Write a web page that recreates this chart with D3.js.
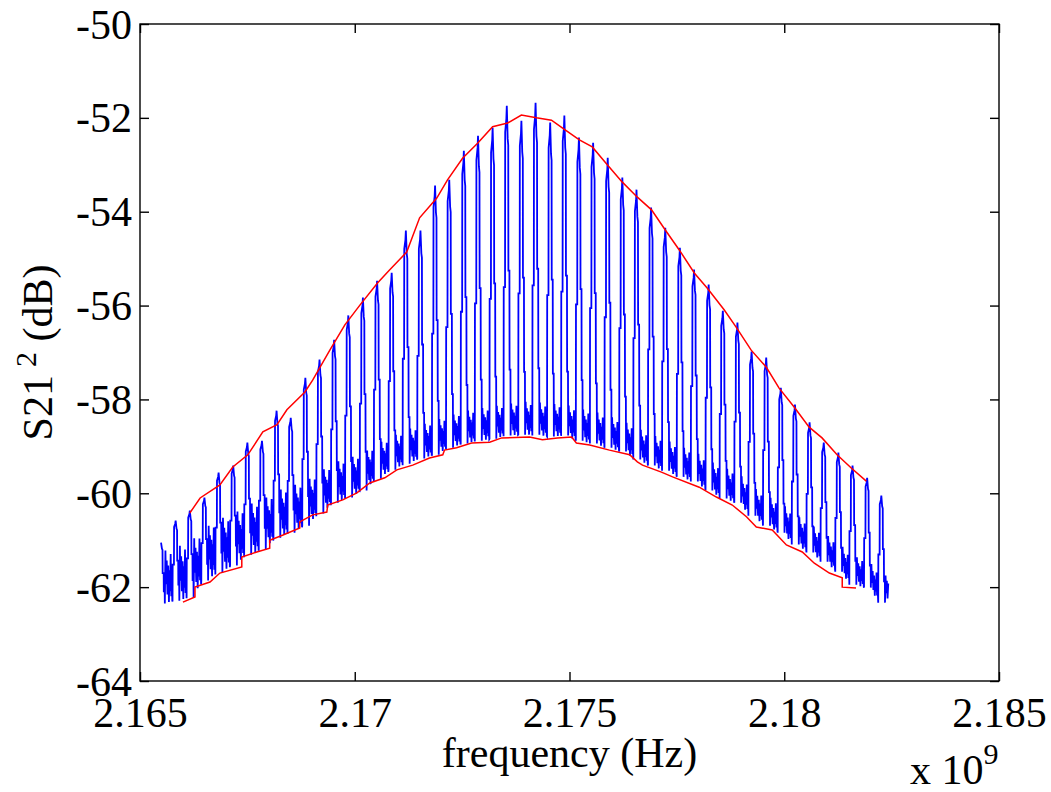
<!DOCTYPE html>
<html>
<head>
<meta charset="utf-8">
<script src="https://cdn.jsdelivr.net/npm/d3@7"></script>
<style>
  body { margin: 0; background: #fff; }
  text { font-family: "Liberation Serif", "Times New Roman", serif; fill: #000; }
</style>
</head>
<body>
<div id="chart"></div>
<script>
// frequency in units of 1e9 Hz, levels in dB
var xTicks = [2.165, 2.17, 2.175, 2.18, 2.185];
var xTickLabels = ["2.165", "2.17", "2.175", "2.18", "2.185"];
var yTicks = [-64, -62, -60, -58, -56, -54, -52, -50];
var yTickLabels = ["-64", "-62", "-60", "-58", "-56", "-54", "-52", "-50"];

// resonance spikes of the measured trace
var peakFreq = [2.16549, 2.16583, 2.16616, 2.16650, 2.16683, 2.16717, 2.16750, 2.16784, 2.16818, 2.16851,
    2.16885, 2.16918, 2.16952, 2.16985, 2.17019, 2.17052, 2.17086, 2.17119, 2.17153, 2.17187,
    2.17220, 2.17254, 2.17287, 2.17321, 2.17354, 2.17388, 2.17421, 2.17455, 2.17488, 2.17522,
    2.17555, 2.17589, 2.17623, 2.17656, 2.17690, 2.17723, 2.17757, 2.17790, 2.17824, 2.17857,
    2.17891, 2.17924, 2.17958, 2.17992, 2.18025, 2.18059, 2.18092, 2.18126, 2.18159, 2.18193, 2.18226];
var peakDb = [-61.10, -60.63, -60.42, -60.14, -59.61, -59.46, -58.97, -58.93, -58.29, -58.44,
    -57.59, -57.20, -56.78, -56.26, -55.88, -55.52, -55.35, -54.45, -54.45, -53.49,
    -53.37, -52.75, -52.43, -52.26, -51.79, -52.11, -51.73, -52.15, -52.00, -52.47,
    -52.58, -52.90, -53.32, -53.58, -53.96, -54.39, -54.82, -55.28, -55.60, -56.16,
    -56.41, -57.03, -57.16, -57.80, -58.16, -58.54, -58.97, -59.18, -59.46, -59.72, -60.10];
var floorDb = [-62.40, -62.34, -62.27, -61.91, -61.74, -61.59, -61.36, -61.25, -61.00, -60.89,
    -60.74, -60.48, -60.25, -60.14, -59.99, -59.74, -59.55, -59.42, -59.31, -59.23,
    -59.08, -58.99, -58.93, -58.89, -58.82, -58.80, -58.80, -58.84, -58.82, -58.93,
    -58.99, -59.08, -59.16, -59.33, -59.46, -59.57, -59.70, -59.80, -59.99, -60.16,
    -60.25, -60.53, -60.74, -60.89, -61.14, -61.31, -61.51, -61.72, -62.00, -62.06, -62.38];
var noiseDb = [-61.30, -61.20, -61.10, -60.80, -60.60, -60.50, -60.30, -60.20, -60.00, -59.90,
    -59.80, -59.60, -59.40, -59.30, -59.20, -59.00, -58.85, -58.70, -58.60, -58.50,
    -58.40, -58.30, -58.25, -58.20, -58.15, -58.10, -58.10, -58.15, -58.15, -58.25,
    -58.30, -58.40, -58.50, -58.65, -58.80, -58.90, -59.05, -59.15, -59.35, -59.50,
    -59.60, -59.90, -60.10, -60.25, -60.50, -60.70, -60.90, -61.10, -61.40, -61.45, -61.80];

// red envelopes
var upperFreq = [2.16616, 2.16640, 2.16686, 2.16716, 2.16751, 2.16786, 2.16819, 2.16842, 2.16884, 2.16902,
    2.16942, 2.16977, 2.17012, 2.17053, 2.17081, 2.17121, 2.17151, 2.17191, 2.17216, 2.17251,
    2.17286, 2.17321, 2.17356, 2.17388, 2.17423, 2.17458, 2.17484, 2.17523, 2.17553, 2.17588,
    2.17623, 2.17658, 2.17691, 2.17723, 2.17756, 2.17791, 2.17821, 2.17860, 2.17888, 2.17923,
    2.17958, 2.17988, 2.18023, 2.18058, 2.18088, 2.18123, 2.18156, 2.18191];
var upperDb = [-60.42, -60.10, -59.82, -59.44, -59.18, -58.69, -58.54, -58.22, -57.84, -57.59,
    -56.95, -56.41, -55.99, -55.52, -55.24, -54.86, -54.13, -53.71, -53.32, -52.86,
    -52.54, -52.19, -52.11, -51.94, -52.00, -52.05, -52.22, -52.47, -52.62, -53.00,
    -53.37, -53.69, -53.96, -54.39, -54.82, -55.31, -55.63, -56.09, -56.46, -56.95,
    -57.31, -57.76, -58.16, -58.59, -58.82, -59.18, -59.46, -59.74];
var lowerFreq = [2.16600, 2.16628, 2.16628, 2.16663, 2.16686, 2.16737, 2.16737, 2.16772, 2.16802, 2.16802,
    2.16833, 2.16872, 2.16872, 2.16902, 2.16935, 2.16937, 2.16972, 2.17005, 2.17035, 2.17070,
    2.17098, 2.17135, 2.17174, 2.17205, 2.17209, 2.17237, 2.17272, 2.17314, 2.17342, 2.17407,
    2.17437, 2.17472, 2.17505, 2.17516, 2.17547, 2.17593, 2.17640, 2.17658, 2.17670, 2.17714,
    2.17740, 2.17802, 2.17842, 2.17879, 2.17912, 2.17935, 2.17972, 2.18005, 2.18042, 2.18070,
    2.18105, 2.18135, 2.18135, 2.18167];
var lowerDb = [-62.32, -62.21, -62.00, -61.89, -61.70, -61.57, -61.36, -61.25, -61.17, -61.00,
    -60.89, -60.74, -60.61, -60.46, -60.40, -60.25, -60.14, -59.99, -59.78, -59.67,
    -59.50, -59.40, -59.25, -59.18, -59.08, -59.03, -58.93, -58.91, -58.82, -58.80,
    -58.86, -58.82, -58.80, -58.93, -58.97, -59.08, -59.18, -59.33, -59.40, -59.55,
    -59.65, -59.87, -60.08, -60.25, -60.50, -60.72, -60.78, -61.10, -61.25, -61.49,
    -61.70, -61.80, -62.00, -62.02];

var W = 1051, H = 792;
var box = { left: 140, right: 999, top: 24, bottom: 681 };

var svg = d3.select("#chart").append("svg")
    .attr("width", W)
    .attr("height", H);
svg.append("rect").attr("width", W).attr("height", H).attr("fill", "#fff");

var x = d3.scaleLinear().domain([2.165, 2.185]).range([box.left, box.right]);
var y = d3.scaleLinear().domain([-64, -50]).range([box.bottom, box.top]);

// spike outline (offset as fraction of spacing, fraction of peak height above floor)
var spikeShape = [[-0.22, 0.0], [-0.21, 0.45], [-0.12, 0.45], [-0.11, 0.92], [-0.03, 0.96], [0, 1.0],
    [0.06, 0.9], [0.1, 0.88], [0.11, 0.5], [0.18, 0.5], [0.19, 0.2], [0.25, 0.2], [0.26, 0.0]];
// floor ripple between spikes (offset, fraction of noise band)
var noiseShape = [[0.3, 1.0], [0.34, 0.35], [0.39, 0.8], [0.44, 0.15], [0.49, 0.7], [0.54, 0.0],
    [0.58, 0.6], [0.62, 0.2], [0.66, 0.9], [0.7, 0.1], [0.74, 0.5], [0.77, 0.0]];

var trace = [];
peakFreq.forEach(function (f, i) {
    var last = i === peakFreq.length - 1;
    var s = !last ? peakFreq[i + 1] - f : f - peakFreq[i - 1];
    var p = peakDb[i], fl = floorDb[i];
    var flNext = !last ? floorDb[i + 1] : fl;
    var nzNext = !last ? noiseDb[i + 1] : noiseDb[i];
    spikeShape.forEach(function (k) {
        if (i === 0 && k[0] < 0) return;
        trace.push([f + k[0] * s, fl + 0.05 + k[1] * (p - fl)]);
    });
    noiseShape.forEach(function (n) {
        if (last && n[0] > 0.5) return;
        var base = fl + (flNext - fl) * n[0];
        var top = noiseDb[i] + (nzNext - noiseDb[i]) * n[0];
        trace.push([f + n[0] * s, base + 0.05 + (top - base) * n[1]]);
    });
});

var line = d3.line()
    .x(function (d) { return x(d[0]); })
    .y(function (d) { return y(d[1]); });

var plot = svg.append("g");
plot.append("path")
    .datum(trace)
    .attr("fill", "none")
    .attr("stroke", "#0000ff")
    .attr("stroke-width", 1.8)
    .attr("stroke-linejoin", "miter")
    .attr("d", line);

plot.append("path")
    .datum(d3.zip(upperFreq, upperDb))
    .attr("fill", "none")
    .attr("stroke", "#ff0000")
    .attr("stroke-width", 1.5)
    .attr("d", line);

plot.append("path")
    .datum(d3.zip(lowerFreq, lowerDb))
    .attr("fill", "none")
    .attr("stroke", "#ff0000")
    .attr("stroke-width", 1.5)
    .attr("d", line);

// axes, ticks pointing inward on all four sides
var gx = svg.append("g")
    .attr("transform", "translate(0," + box.bottom + ")")
    .call(d3.axisBottom(x).tickValues(xTicks).tickSize(-9).tickSizeOuter(0).tickPadding(0)
        .tickFormat(function (d, i) { return xTickLabels[i]; }));
gx.selectAll("text").attr("y", 46).attr("dy", null);

var gy = svg.append("g")
    .attr("transform", "translate(" + box.left + ",0)")
    .call(d3.axisLeft(y).tickValues(yTicks).tickSize(-9).tickSizeOuter(0).tickPadding(8)
        .tickFormat(function (d, i) { return yTickLabels[i]; }));
gy.selectAll("text").attr("dy", null).attr("y", 14);

svg.append("g")
    .attr("transform", "translate(0," + box.top + ")")
    .call(d3.axisTop(x).tickValues(xTicks).tickSize(-9).tickSizeOuter(0).tickFormat(""));
svg.append("g")
    .attr("transform", "translate(" + box.right + ",0)")
    .call(d3.axisRight(y).tickValues(yTicks).tickSize(-9).tickSizeOuter(0).tickFormat(""));

svg.selectAll(".domain").remove();
svg.selectAll(".tick line").attr("stroke", "#000").attr("stroke-width", 1.4);
svg.selectAll(".tick text")
    .attr("font-size", 42)
    .attr("font-family", "'Liberation Serif', 'Times New Roman', serif")
    .attr("fill", "#000");

svg.append("rect")
    .attr("x", box.left)
    .attr("y", box.top)
    .attr("width", box.right - box.left)
    .attr("height", box.bottom - box.top)
    .attr("fill", "none")
    .attr("stroke", "#000")
    .attr("stroke-width", 1.4);

// labels
svg.append("text")
    .attr("x", (box.left + box.right) / 2)
    .attr("y", 767)
    .attr("text-anchor", "middle")
    .attr("font-size", 42)
    .text("frequency (Hz)");

var ylab = svg.append("text")
    .attr("transform", "translate(52," + (box.top + box.bottom) / 2 + ") rotate(-90)")
    .attr("text-anchor", "middle")
    .attr("font-size", 42);
ylab.append("tspan").text("S21");
ylab.append("tspan").attr("dx", 8).attr("dy", -16).attr("font-size", 30).text("2");
ylab.append("tspan").attr("dy", 16).text(" (dB)");

var expo = svg.append("text")
    .attr("x", 910)
    .attr("y", 784)
    .attr("font-size", 42);
expo.append("tspan").text("x 10");
expo.append("tspan").attr("dy", -20).attr("font-size", 30).text("9");
</script>
</body>
</html>
